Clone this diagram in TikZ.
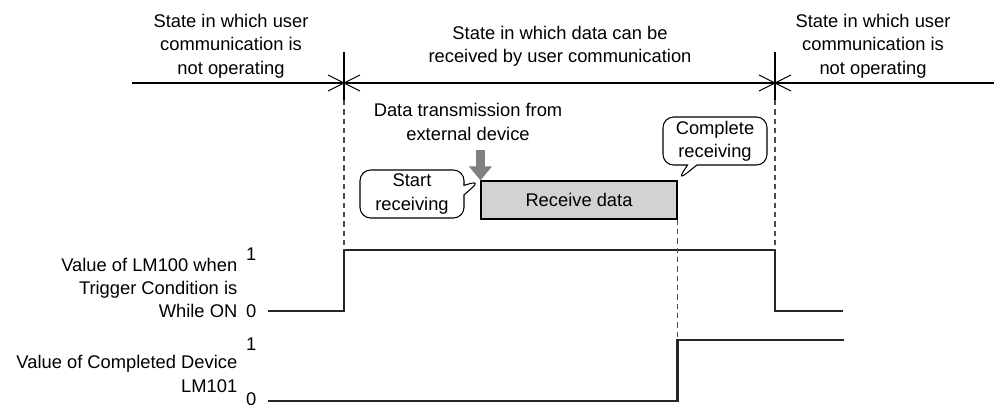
\documentclass[tikz,border=0pt]{standalone}
\usepackage{fontspec}
\setmainfont{Liberation Sans}
\usetikzlibrary{arrows.meta, positioning, calc, fit, shapes.callouts}

\begin{document}
\begin{tikzpicture}[
    x=0.75pt, y=-0.75pt,
    >=Latex,
    font=\fontsize{13.75}{17.5}\selectfont,
    % Styles
    statetext/.style={align=center},
    sigtext/.style={align=right, anchor=east},
    level/.style={inner sep=0.5pt},
    thinline/.style={line width=0.8pt},
    wave/.style={line width=1.9pt, line join=miter, draw=black!85},
    guide/.style={line width=0.8pt, draw=black!70, dash pattern=on 4pt off 3pt},
    rxbox/.style={draw, line width=0.8pt, fill=gray!35, inner sep=0pt},
    bubble/.style={draw, rectangle callout, rounded corners=8pt, align=center, minimum width=78pt, minimum height=36pt, inner sep=2pt, line width=0.8pt, fill=white},
    txarrow/.style={draw=gray, line width=6.5pt, -{Triangle[length=10.5pt, width=16.5pt]}}
]
\useasboundingbox (0,0) rectangle (994,404);

% 1. State line and boundaries
\coordinate (line start) at (132,83);
\coordinate (line end) at (994,83);
\coordinate (on) at (344,83);
\coordinate (off) at (775,83);
\draw[thinline] (line start) -- (line end);
\foreach \m in {on, off} {
    \draw[thinline] ($(\m)+(0,-31)$) -- ($(\m)+(0,17)$);
    \draw[thinline] ($(\m)+(-16,-8)$) -- ($(\m)+(16,8)$);
    \draw[thinline] ($(\m)+(-16,8)$) -- ($(\m)+(16,-8)$);
}

% 2. State texts
\node[statetext] (idle before) at (231,46) {State in which user\\communication is\\not operating};
\node[statetext] (active) at (560,46) {State in which data can be\\received by user communication};
\node[statetext] (idle after) at (873,46) {State in which user\\communication is\\not operating};

% 3. Receive data
\coordinate (rx start) at (481,181);
\coordinate (rx end) at (677,219);
\node[rxbox, fit=(rx start)(rx end)] (rx) {};
\node (rx text) at (rx.center) {Receive data};
\node[statetext] (tx) at (468,122) {Data transmission from\\external device};
\draw[txarrow] ($(rx.north west)+(0,-30)$) -- (rx.north west);
\node[bubble, callout absolute pointer={(rx.north west)}] (startrx) at (412,194) {Start\\receiving};
\node[bubble, callout absolute pointer={(rx.north east)}] (donerx) at (715,141) {Complete\\receiving};

% 4. LM100 signal
\coordinate (a lo) at (268,311);
\coordinate (a hi) at (268,250);
\node[sigtext] (lm100) at (242,288) {Value of LM100 when\\Trigger Condition is\\While ON};
\node[level, left=8pt of a lo] (a0) {0};
\node[level, left=8pt of a hi, yshift=-3pt] (a1) {1};
\draw[wave] (a lo) -- (a lo -| on) -- (a hi -| on) -- (a hi -| off) -- (a lo -| off) -- ++(68,0);
\draw[guide] ($(on)+(0,17)$) -- (a hi -| on);
\draw[guide] ($(off)+(0,17)$) -- (a hi -| off);

% 5. LM101 signal
\coordinate (b lo) at (268,401);
\coordinate (b hi) at (268,340);
\node[sigtext] (lm101) at (242,374) {Value of Completed Device\\LM101};
\node[level, left=8pt of b lo, yshift=1pt] (b0) {0};
\node[level, left=8pt of b hi, yshift=-3.5pt] (b1) {1};
\draw[wave] (b lo) -- (b lo -| rx.east) -- (b hi -| rx.east) -- ++(166,0);
\draw[guide] (rx.south east) -- (b hi -| rx.east);

\end{tikzpicture}
\end{document}
